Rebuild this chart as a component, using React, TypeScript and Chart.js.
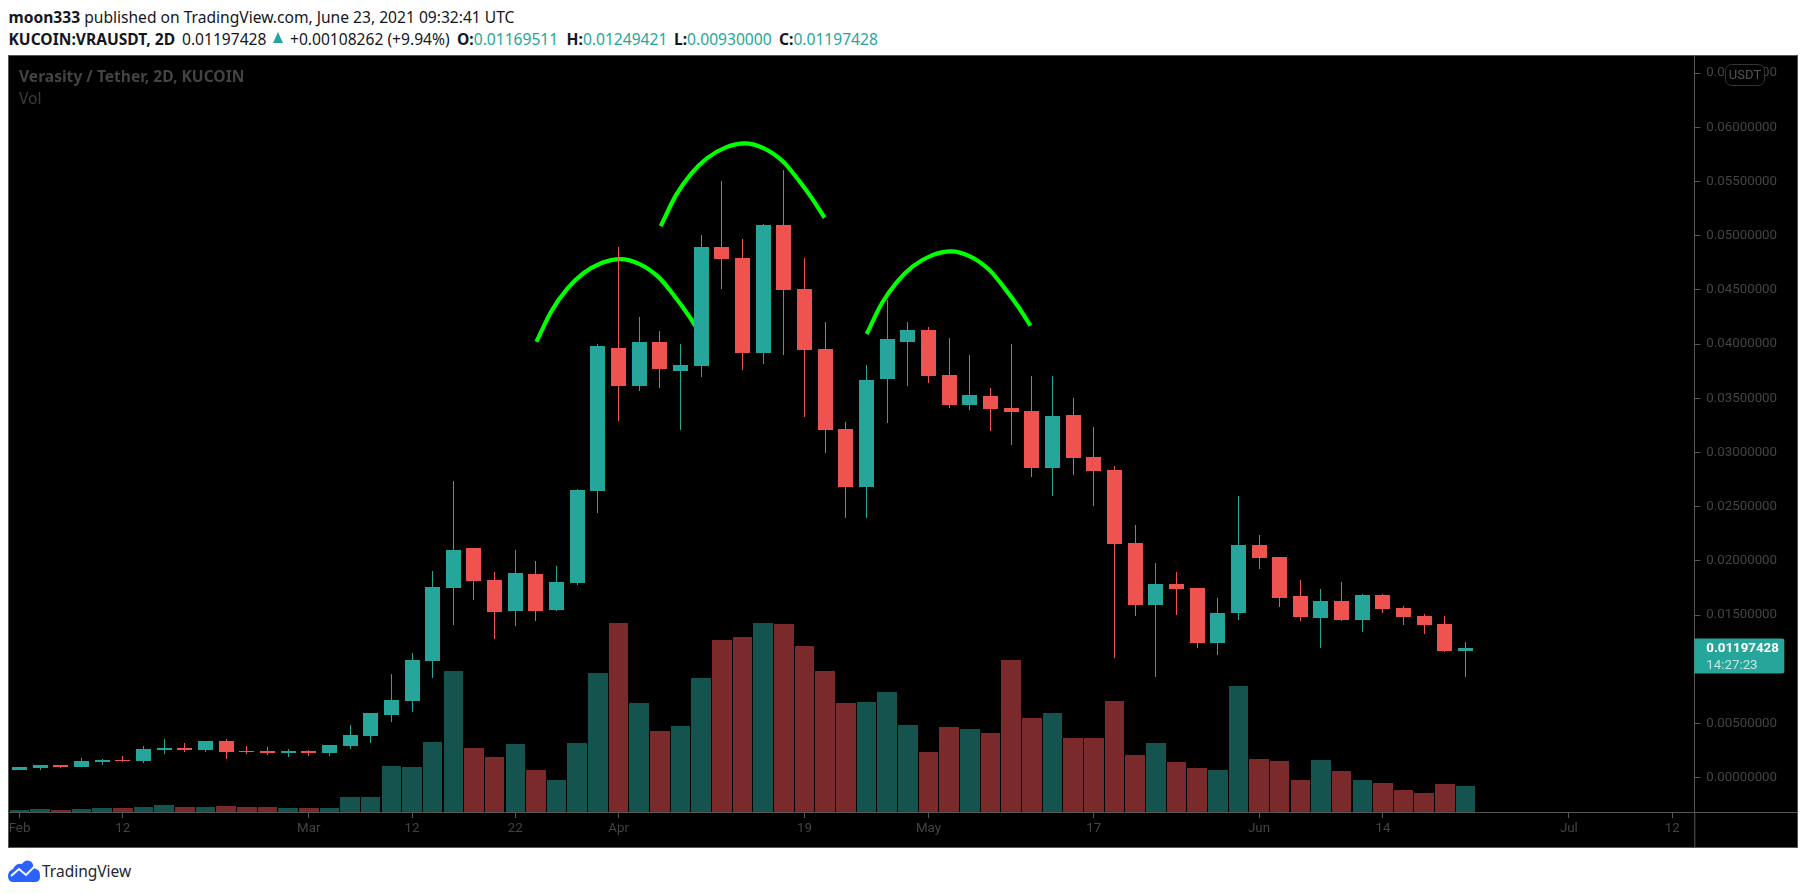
import React, { useEffect, useRef } from "react";
import { Chart, registerables } from "chart.js";

Chart.register(...registerables);

const opens = [0.00071,0.00090,0.00117,0.00099,0.00145,0.00163,0.00154,0.00256,0.00274,0.00256,0.00339,0.00246,0.00246,0.00228,0.00246,0.00228,0.00292,0.00385,0.00578,0.00708,0.01077,0.01750,0.02119,0.01824,0.01538,0.01879,0.01547,0.01796,0.02645,0.03964,0.03613,0.04019,0.03752,0.03798,0.04896,0.04794,0.03918,0.05099,0.04508,0.03955,0.03217,0.02682,0.03678,0.04019,0.04130,0.03715,0.03438,0.03521,0.03411,0.03383,0.02857,0.03346,0.02959,0.02839,0.02165,0.01593,0.01787,0.01750,0.01243,0.01519,0.02147,0.02036,0.01676,0.01473,0.01630,0.01455,0.01685,0.01566,0.01492,0.01418,0.01169511];
const highs = [0.00099,0.00117,0.00117,0.00182,0.00173,0.00200,0.00292,0.00357,0.00320,0.00339,0.00357,0.00292,0.00283,0.00265,0.00256,0.00302,0.00486,0.00597,0.00957,0.01150,0.01907,0.02737,0.02119,0.01898,0.02100,0.01999,0.01953,0.02663,0.04001,0.04896,0.04250,0.04121,0.04001,0.05006,0.05505,0.04970,0.05108,0.05606,0.04794,0.04204,0.03281,0.03807,0.04407,0.04204,0.04158,0.04056,0.03899,0.03595,0.04001,0.03706,0.03706,0.03503,0.03235,0.02875,0.02331,0.01981,0.01898,0.01750,0.01658,0.02599,0.02239,0.02036,0.01824,0.01741,0.01805,0.01695,0.01695,0.01584,0.01510,0.01492,0.01249421];
const lows = [0.00071,0.00071,0.00090,0.00099,0.00117,0.00145,0.00136,0.00219,0.00237,0.00237,0.00173,0.00219,0.00209,0.00191,0.00200,0.00200,0.00265,0.00320,0.00514,0.00606,0.00920,0.01409,0.01639,0.01280,0.01399,0.01446,0.01538,0.01778,0.02442,0.03291,0.03567,0.03595,0.03208,0.03697,0.04508,0.03761,0.03816,0.03899,0.03328,0.02995,0.02396,0.02396,0.03272,0.03613,0.03641,0.03411,0.03392,0.03198,0.03069,0.02774,0.02599,0.02792,0.02506,0.01104,0.01492,0.00929,0.01501,0.01197,0.01132,0.01455,0.01925,0.01575,0.01446,0.01197,0.01446,0.01344,0.01519,0.01409,0.01326,0.01160,0.00930000];
const closes = [0.00099,0.00117,0.00099,0.00154,0.00163,0.00154,0.00265,0.00274,0.00256,0.00339,0.00237,0.00237,0.00228,0.00246,0.00228,0.00302,0.00394,0.00597,0.00717,0.01086,0.01759,0.02101,0.01815,0.01529,0.01888,0.01538,0.01805,0.02654,0.03982,0.03613,0.04019,0.03770,0.03807,0.04896,0.04785,0.03918,0.05099,0.04499,0.03946,0.03208,0.02682,0.03669,0.04047,0.04130,0.03706,0.03438,0.03530,0.03401,0.03374,0.02857,0.03337,0.02949,0.02829,0.02156,0.01593,0.01787,0.01741,0.01243,0.01519,0.02147,0.02027,0.01658,0.01483,0.01630,0.01455,0.01685,0.01556,0.01483,0.01409,0.01169,0.01197428];
const volumes = [2,3,2,3,4,4,5,7,5,5,6,5,5,4,4,4,15,15,46,45,70,141,64,55,68,42,32,69,139,189,109,81,86,134,172,175,189,188,166,141,109,110,120,87,60,85,83,79,152,94,99,74,74,111,57,69,50,44,42,126,53,51,32,52,41,32,29,22,19,28,26];

const xTickIndexes = [0,5,14,19,24,29,38,44,52,60,66,75,80];
const xTickLabels = ["Feb","12","Mar","12","22","Apr","19","May","17","Jun","14","Jul","12"];
const yTickValues = [0,0.005,0.01,0.015,0.02,0.025,0.03,0.035,0.04,0.045,0.05,0.055,0.06,0.065];

const arc1X = [25.02,25.76,26.51,27.25,28.17,29.10,30.02,30.95,31.69,32.34,32.95];
const arc1Y = [0.04022,0.04308,0.04509,0.04647,0.04748,0.04785,0.04739,0.04616,0.04447,0.04278,0.04099];
const arc2X = [31.04,31.78,32.53,33.27,34.19,35.12,36.04,36.97,37.71,38.36,38.97];
const arc2Y = [0.05089,0.05375,0.05576,0.05714,0.05815,0.05852,0.05806,0.05683,0.05514,0.05345,0.05166];
const arc3X = [41.01,41.75,42.50,43.24,44.16,45.09,46.01,46.94,47.68,48.33,48.94];
const arc3Y = [0.04093,0.04379,0.04579,0.04717,0.04819,0.04856,0.04810,0.04686,0.04517,0.04349,0.04170];

const UP = "#26a69a";
const DOWN = "#ef5350";
const VOL_UP = "#15534e";
const VOL_DOWN = "#7a2a2a";
const AXIS = "#565656";
const TICK_TEXT = "#444444";
const FONT = "Roboto, sans-serif";
const HEAD_FONT = "'Noto Sans', sans-serif";
const lastPrice = "0.01197428";
const countdown = "14:27:23";

const isUp = opens.map((o, i) => closes[i] >= o);
const index = opens.map((_, i) => i);

const arcSet = (xs: number[], ys: number[]) => ({
  type: "line" as const,
  data: xs.map((x, i) => ({ x, y: ys[i] })),
  borderColor: "#00ff00",
  borderWidth: 4.2,
  pointRadius: 0,
  cubicInterpolationMode: "monotone" as const,
  borderCapStyle: "butt" as const,
  yAxisID: "y",
  order: 3,
});

// Snap the bars the scales placed onto whole device pixels, as the original renderer does.
const crispBars = {
  id: "crispBars",
  afterDatasetsUpdate(chart: any) {
    chart.data.datasets.forEach((ds: any, d: number) => {
      if (ds.type === "line") return;
      chart.getDatasetMeta(d).data.forEach((el: any) => {
        const half = el.width / 2;
        const left = Math.round(el.x - half);
        const right = Math.max(left + 1, Math.round(el.x + half));
        el.x = (left + right) / 2;
        el.width = right - left;
        el.y = Math.round(el.y);
        el.base = Math.round(el.base);
      });
    });
  },
};

const frameLines = {
  id: "frameLines",
  afterDraw(chart: any) {
    const { ctx, chartArea: a, width, height } = chart;
    const y = chart.scales.y.getPixelForValue(closes[closes.length - 1]);
    ctx.save();
    ctx.strokeStyle = AXIS;
    ctx.lineWidth = 1;
    ctx.beginPath();
    ctx.moveTo(a.right + 0.5, a.bottom);
    ctx.lineTo(a.right + 0.5, height);
    ctx.moveTo(a.right, a.bottom + 0.5);
    ctx.lineTo(width, a.bottom + 0.5);
    ctx.stroke();
    // USDT chip
    ctx.fillStyle = "#000";
    ctx.strokeStyle = "#333";
    ctx.beginPath();
    ctx.roundRect(1716.5, 8.5, 39, 21, 6);
    ctx.fill();
    ctx.stroke();
    ctx.fillStyle = "#565656";
    ctx.font = `13px ${FONT}`;
    ctx.textAlign = "center";
    ctx.textBaseline = "middle";
    ctx.fillText("USDT", 1736, 19.5);
    // last price tag
    ctx.fillStyle = UP;
    ctx.beginPath();
    ctx.roundRect(a.right, y - 9.5, 90, 35, [0, 2, 2, 0]);
    ctx.fill();
    ctx.textAlign = "left";
    ctx.fillStyle = "#ffffff";
    ctx.font = `bold 13.3px ${FONT}`;
    ctx.fillText(lastPrice, a.right + 12, y + 1);
    ctx.fillStyle = "rgba(255,255,255,0.72)";
    ctx.font = `13.3px ${FONT}`;
    ctx.fillText(countdown, a.right + 12, y + 18);
    ctx.restore();
  },
};

export default function App() {
  const ref = useRef<HTMLCanvasElement>(null);
  useEffect(() => {
    document.body.style.margin = "0";
    document.body.style.background = "#fff";
    const chart = new Chart(ref.current!, {
      type: "bar",
      plugins: [crispBars, frameLines],
      data: {
        datasets: [
          {
            data: index.map((i) => ({ x: i, y: [Math.min(opens[i], closes[i]), Math.max(opens[i], closes[i])] })),
            backgroundColor: isUp.map((u) => (u ? UP : DOWN)),
            barThickness: 15,
            grouped: false,
            inflateAmount: 0,
            yAxisID: "y",
            order: 1,
          },
          {
            data: index.map((i) => ({ x: i, y: [lows[i], highs[i]] })),
            backgroundColor: isUp.map((u) => (u ? UP : DOWN)),
            barThickness: 1,
            grouped: false,
            inflateAmount: 0,
            yAxisID: "y",
            order: 2,
          },
          arcSet(arc1X, arc1Y),
          arcSet(arc2X, arc2Y),
          arcSet(arc3X, arc3Y),
          {
            data: index.map((i) => ({ x: i, y: volumes[i] })),
            backgroundColor: isUp.map((u) => (u ? VOL_UP : VOL_DOWN)),
            barThickness: 19.6,
            grouped: false,
            inflateAmount: 0,
            yAxisID: "yVol",
            order: 5,
          },
        ] as any,
      },
      options: {
        animation: false,
        responsive: false,
        maintainAspectRatio: false,
        events: [],
        layout: { padding: 0 },
        plugins: { legend: { display: false }, tooltip: { enabled: false }, title: { display: false } },
        scales: {
          x: {
            type: "linear",
            offset: false,
            min: -0.508,
            max: 81.07,
            grid: { offset: false, drawOnChartArea: false, drawTicks: true, tickLength: 6, tickColor: AXIS },
            border: { color: AXIS, width: 1 },
            afterBuildTicks: (s: any) => {
              s.ticks = xTickIndexes.map((value) => ({ value }));
            },
            afterFit: (s: any) => {
              s.height = 35;
              s.paddingLeft = 0;
              s.paddingRight = 0;
            },
            ticks: {
              autoSkip: false,
              maxRotation: 0,
              padding: 3,
              color: TICK_TEXT,
              font: { family: FONT, size: 13.3 },
              callback: (v: any) => xTickLabels[xTickIndexes.indexOf(v)],
            },
          },
          y: {
            type: "linear",
            position: "right",
            min: -0.00316,
            max: 0.06658,
            grid: { drawOnChartArea: false, drawTicks: true, tickLength: 6, tickColor: AXIS },
            border: { color: AXIS, width: 1 },
            afterBuildTicks: (s: any) => {
              s.ticks = yTickValues.map((value) => ({ value }));
            },
            afterFit: (s: any) => {
              s.width = 102.7;
              s.paddingTop = 0;
              s.paddingBottom = 0;
            },
            ticks: {
              padding: 6,
              color: TICK_TEXT,
              font: { family: FONT, size: 13.3 },
              callback: (v: any) => Number(v).toFixed(8),
            },
          },
          yVol: { type: "linear", display: false, min: 0, max: 757 },
        },
      } as any,
    });
    return () => chart.destroy();
  }, []);

  const abs = (left: number, top: number): React.CSSProperties => ({ position: "absolute", left, top, whiteSpace: "nowrap" });
  const line: React.CSSProperties = { fontFamily: HEAD_FONT, fontSize: 15.6, lineHeight: "20px", color: "#131722" };
  const val: React.CSSProperties = { color: UP };

  return (
    <div style={{ position: "relative", width: 1805, height: 894, overflow: "hidden", background: "#fff" }}>
      <div style={{ ...abs(8.5, 7), ...line }}>
        <b>moon333</b> published on TradingView.com, June 23, 2021 09:32:41 UTC
      </div>
      <div style={{ ...abs(8.5, 29), ...line }}><b>KUCOIN:VRAUSDT, 2D</b></div>
      <div style={{ ...abs(182, 29), ...line }}>0.01197428</div>
      <div style={{ position: "absolute", left: 273, top: 32, width: 0, height: 0, borderLeft: "5.5px solid transparent", borderRight: "5.5px solid transparent", borderBottom: `11px solid ${UP}` }} />
      <div style={{ ...abs(290, 29), ...line }}>+0.00108262 (+9.94%)</div>
      <div style={{ ...abs(457, 29), ...line }}><b>O:</b><span style={val}>0.01169511</span></div>
      <div style={{ ...abs(566.6, 29), ...line }}><b>H:</b><span style={val}>0.01249421</span></div>
      <div style={{ ...abs(674, 29), ...line }}><b>L:</b><span style={val}>0.00930000</span></div>
      <div style={{ ...abs(779, 29), ...line }}><b>C:</b><span style={val}>0.01197428</span></div>
      <div style={{ position: "absolute", left: 8, top: 55, width: 1788, height: 791, border: "1px solid #555", background: "#000" }} />
      <canvas ref={ref} width={1788} height={791} style={{ position: "absolute", left: 9, top: 56, width: 1788, height: 791 }} />
      <div style={{ ...abs(19, 66), fontFamily: HEAD_FONT, fontSize: 15.6, lineHeight: "20px", fontWeight: 700, color: "#434343" }}>Verasity / Tether, 2D, KUCOIN</div>
      <div style={{ ...abs(19, 88), fontFamily: HEAD_FONT, fontSize: 15.6, lineHeight: "20px", color: "#3c3c3c" }}>Vol</div>
      <svg style={{ position: "absolute", left: 8, top: 859 }} width="33" height="23" viewBox="0 0 33 23">
        <path d="M0 17 Q0 12 5 10 Q8 4 14 5 Q17 0 22 2 Q26 4 25 9 Q33 10 32 18 Q32 23 27 23 L4 23 Q0 22 0 17Z" fill="#2962ff" />
        <path d="M3 17 L11 10 L18 16 L26 8" fill="none" stroke="#fff" strokeWidth="2" />
      </svg>
      <div style={{ ...abs(42, 860), fontFamily: HEAD_FONT, fontSize: 15.5, lineHeight: "22px", color: "#222630" }}>TradingView</div>
    </div>
  );
}
